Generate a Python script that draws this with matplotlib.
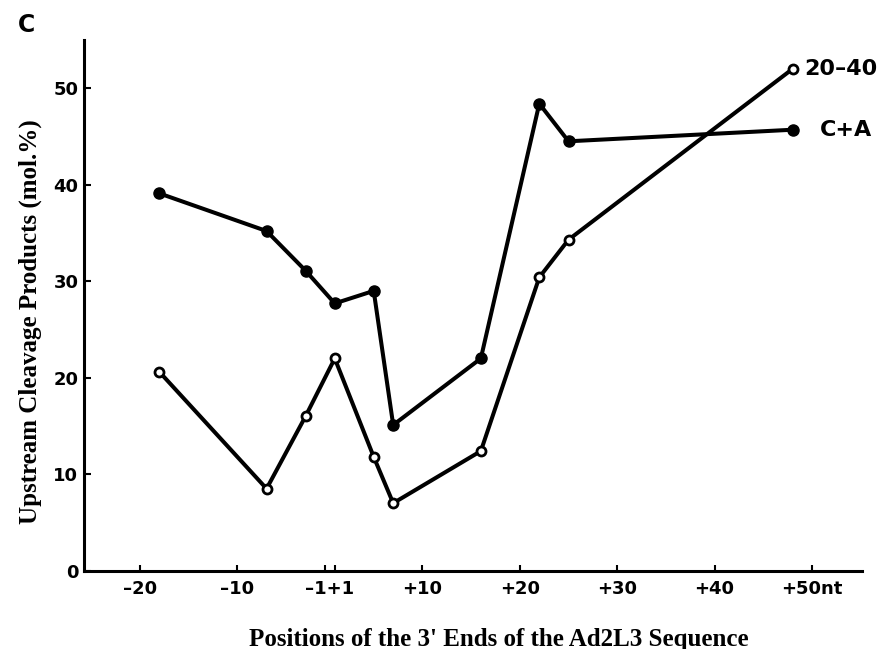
import numpy as np
import matplotlib
matplotlib.use('Agg')
import matplotlib.pyplot as plt

# positions of the 3' ends (nt, no zero position)
positions = [-18, -7, -3, 1, 5, 7, 16, 22, 25, 48]
ca_values = [39.1, 35.2, 31.1, 27.7, 29.0, 15.1, 22.0, 48.4, 44.5, 45.7]
r2040_values = [20.6, 8.5, 16.0, 22.0, 11.8, 7.0, 12.4, 30.4, 34.3, 52.0]

tick_pos = [-20, -10, -1, 1, 10, 20, 30, 40, 50]
tick_labels = ['–20', '–10', '', '', '+10', '+20', '+30', '+40', '+50nt']
y_ticks = [0, 10, 20, 30, 40, 50]


def to_axis(p):
    # there is no position 0, so -1 and +1 sit next to each other
    p = np.asarray(p, dtype=float)
    return np.where(p < 0, p + 0.5, p - 0.5)


sans = 'DejaVu Sans'
serif = 'Liberation Serif'

fig = plt.figure(figsize=(8.96, 6.49), dpi=100)
ax = fig.add_axes([0.0937, 0.1206, 0.868, 0.8178])

ax.plot(to_axis(positions), ca_values, color='black', lw=2.9,
        marker='o', ms=8, mfc='black', mec='black', solid_joinstyle='round')
ax.plot(to_axis(positions), r2040_values, color='black', lw=2.9,
        marker='o', ms=6.5, mfc='white', mec='black', mew=2.0,
        solid_joinstyle='round')

ax.set_xlim(-25.25, 54.6)
ax.set_ylim(0, 55)

ax.spines['top'].set_visible(False)
ax.spines['right'].set_visible(False)
ax.spines['left'].set_linewidth(2.2)
ax.spines['bottom'].set_linewidth(2.2)

ax.set_xticks(to_axis(tick_pos))
ax.set_xticklabels(tick_labels, fontfamily=sans, fontweight='bold', fontsize=13)
ax.set_yticks(y_ticks)
ax.set_yticklabels([str(v) for v in y_ticks], fontfamily=sans,
                   fontweight='bold', fontsize=13)
ax.tick_params(axis='x', direction='in', length=4, width=1.5, pad=7)
ax.tick_params(axis='y', direction='in', length=5, width=1.5, pad=4)

# the -1 and +1 ticks share one label
ax.annotate('–1+1', xy=(0, 0), xycoords=('data', 'axes fraction'),
            xytext=(0, -7), textcoords='offset points', ha='center', va='top',
            fontfamily=sans, fontweight='bold', fontsize=13)

ax.text(to_axis(48)[()] + 1.2, 52.0, '20–40', ha='left', va='center',
        fontfamily=sans, fontweight='bold', fontsize=16)
ax.text(to_axis(48)[()] + 2.8, 45.7, 'C+A', ha='left', va='center',
        fontfamily=sans, fontweight='bold', fontsize=16)

ax.set_ylabel('Upstream Cleavage Products (mol.%)', fontfamily=serif,
              fontweight='bold', fontsize=18, labelpad=8)
ax.yaxis.label.set_y(0.47)
ax.set_xlabel("Positions of the 3' Ends of the Ad2L3 Sequence",
              fontfamily=serif, fontweight='bold', fontsize=18, labelpad=21)
ax.xaxis.label.set_x(0.533)

fig.text(0.02, 0.98, 'C', ha='left', va='top', fontfamily=sans,
         fontweight='bold', fontsize=17)

plt.savefig('out.png', dpi=100)
